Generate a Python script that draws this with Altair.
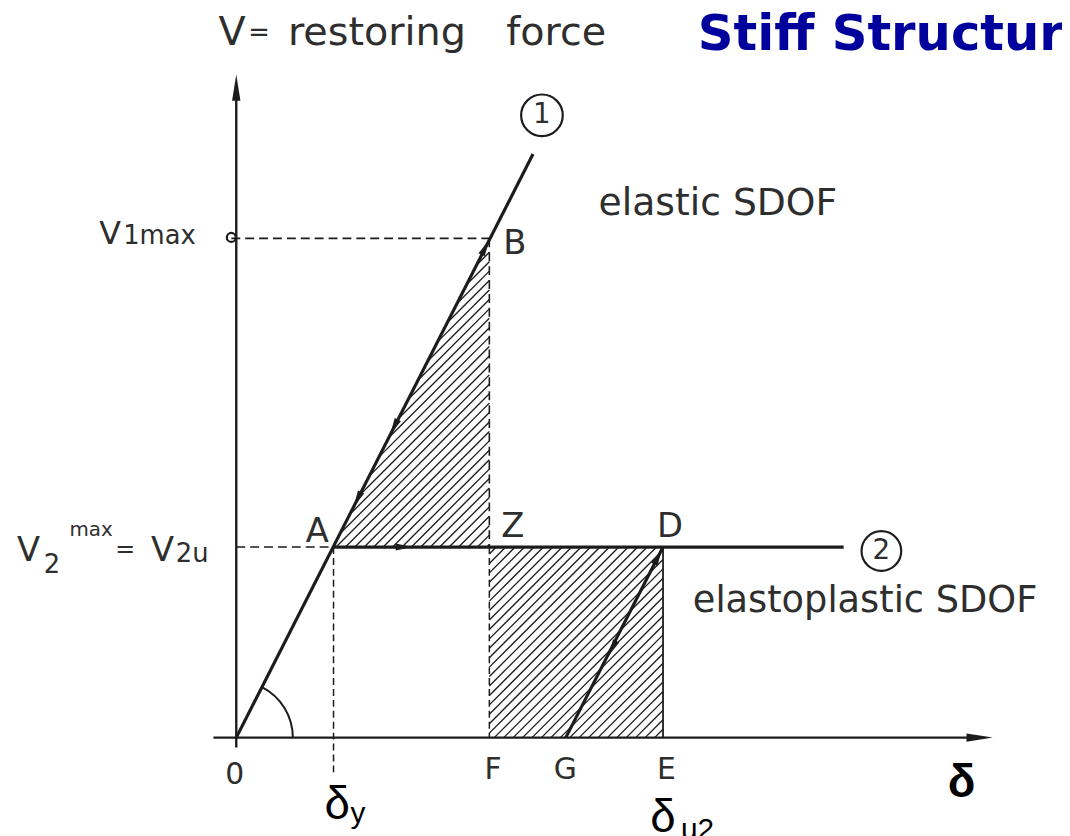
import altair as alt
import pandas as pd
import numpy as np

# ---- key values of the diagram (diagram units: delta to the right, V upwards) ----
delta_y = 98      # yield displacement (point A)
delta_F = 255     # point F / Z / B abscissa
delta_G = 332     # residual displacement G
delta_u2 = 430    # ultimate displacement E / D
V2u = 192         # plateau of elastoplastic SDOF
V1max = 503       # peak force of elastic SDOF

elastic_x = [0, 299]          # curve (1)
elastic_y = [0, 588]
plateau_x = [delta_y, 612]    # curve (2) plateau
plateau_y = [V2u, V2u]
unload_x = [delta_G, delta_u2]
unload_y = [0, V2u]

X_DOM = [-230, 824]
Y_DOM = [-88, 732]
xs = alt.Scale(domain=X_DOM, nice=False, zero=False)
ys = alt.Scale(domain=Y_DOM, nice=False, zero=False)
INK = "#1c1c1c"
TXT = "#2e2e2e"


def seg_layer(rows, **mark):
    df = pd.DataFrame(rows, columns=["x", "y", "x2", "y2"])
    return alt.Chart(df).mark_rule(**mark).encode(
        x=alt.X("x:Q", scale=xs, axis=None),
        y=alt.Y("y:Q", scale=ys, axis=None),
        x2="x2:Q",
        y2="y2:Q",
    )


# ---- hatching of the two energy areas (triangle A-B-Z, rectangle F-Z-D-E) ----
k = (V1max - V2u) / (delta_F - delta_y)
hatch = []
for c in np.arange(-450, 430, 9.5):
    lo, hi = max(delta_F, -c), min(delta_u2, V2u - c)
    if hi > lo:
        hatch.append((lo, lo + c, hi, hi + c))
    lo = max(V2u - c, (c - V2u + k * delta_y) / (k - 1))
    hi = delta_F
    if hi > lo:
        hatch.append((lo, lo + c, hi, hi + c))

hatch_layer = seg_layer(hatch, color=INK, strokeWidth=1.35)

axes_layer = seg_layer(
    [(-23, 0, 752, 0), (0, -10, 0, 658)], color=INK, strokeWidth=2.4
)

curves_layer = seg_layer(
    [
        (elastic_x[0], elastic_y[0], elastic_x[1], elastic_y[1]),
        (plateau_x[0], plateau_y[0], plateau_x[1], plateau_y[1]),
        (unload_x[0], unload_y[0], unload_x[1], unload_y[1]),
    ],
    color=INK,
    strokeWidth=3.2,
)

dashed_layer = seg_layer(
    [
        (-5, V1max, delta_F, V1max),
        (delta_F, V1max, delta_F, V2u),
        (0, V2u, delta_y, V2u),
    ],
    color=INK,
    strokeWidth=1.6,
    strokeDash=[9, 5],
)
dashed_small = seg_layer(
    [(delta_y, V2u, delta_y, -37), (delta_F, V2u, delta_F, 0)],
    color=INK,
    strokeWidth=1.5,
    strokeDash=[7, 4],
)
thin_layer = seg_layer([(delta_u2, V2u, delta_u2, 0)], color=INK, strokeWidth=1.8)

# ---- arrow heads ----
ARROW = "M0,-1L0.32,1L-0.32,1Z"
axis_arrows = pd.DataFrame({"x": [0, 749], "y": [655, 0], "ang": [0, 90]})
axis_arrow_layer = alt.Chart(axis_arrows).mark_point(
    shape=ARROW, filled=True, color=INK, size=700, opacity=1
).encode(
    x=alt.X("x:Q", scale=xs, axis=None),
    y=alt.Y("y:Q", scale=ys, axis=None),
    angle=alt.Angle("ang:Q", scale=None),
)

path_arrows = pd.DataFrame(
    {
        "x": [159, 122, 169, 379, 251, 425],
        "y": [313, 240, V2u, 90, 494, 182],
        "ang": [207, 207, 90, 207, 27, 27],
    }
)
path_arrow_layer = alt.Chart(path_arrows).mark_point(
    shape="M0,-1L0.42,1L-0.42,1Z", filled=True, color=INK, size=280, opacity=1
).encode(
    x=alt.X("x:Q", scale=xs, axis=None),
    y=alt.Y("y:Q", scale=ys, axis=None),
    angle=alt.Angle("ang:Q", scale=None),
)

# ---- angle arc at origin ----
arc_layer = alt.Chart(pd.DataFrame({"x": [0], "y": [0]})).mark_arc(
    radius=58, radius2=56, theta=0.4707, theta2=1.5708, color=INK
).encode(x=alt.X("x:Q", scale=xs, axis=None), y=alt.Y("y:Q", scale=ys, axis=None))

# ---- circles: V1max marker and the circled curve numbers ----
circ = pd.DataFrame({"x": [-5, 308, 650], "y": [504, 627, 188], "s": [80, 1760, 1600]})
circ_layer = alt.Chart(circ).mark_point(
    shape="circle", filled=False, color=INK, strokeWidth=2.2, opacity=1
).encode(
    x=alt.X("x:Q", scale=xs, axis=None),
    y=alt.Y("y:Q", scale=ys, axis=None),
    size=alt.Size("s:Q", scale=None),
)
num_layer = alt.Chart(
    pd.DataFrame({"x": [308, 650], "y": [627, 188], "t": ["1", "2"]})
).mark_text(font="DejaVu Sans", fontSize=28, color=TXT, align="center", baseline="middle").encode(
    x=alt.X("x:Q", scale=xs, axis=None),
    y=alt.Y("y:Q", scale=ys, axis=None),
    text="t:N",
)

# ---- text labels ----
lab_text = ["V", "=", "restoring", "force", "elastic SDOF", "elastoplastic SDOF",
            "B", "A", "Z", "D", "0", "F", "G", "E",
            "V", "1max", "V", "2", "max", "=", "V", "2u"]
lab_x = [-18, 12, 52, 272, 365, 460,
         269, 70, 267, 424, -11, 250, 320, 424,
         -138, -114, -221, -194, -168, -122, -86, -61]
lab_y = [698, 702, 698, 698, 527, 127,
         487, 197, 202, 202, -47, -42, -42, -42,
         497, 497, 178, 166, 203, 182, 178, 177]
lab_size = [40, 26, 40, 40, 38, 37,
            34, 34, 34, 34, 30, 30, 30, 30,
            32, 26, 34, 26, 20, 24, 34, 26]
labels = pd.DataFrame({"t": lab_text, "x": lab_x, "y": lab_y, "s": lab_size})
label_layer = alt.Chart(labels).mark_text(
    font="DejaVu Sans", color=TXT, align="left", baseline="alphabetic"
).encode(
    x=alt.X("x:Q", scale=xs, axis=None),
    y=alt.Y("y:Q", scale=ys, axis=None),
    text="t:N",
    size=alt.Size("s:Q", scale=None),
)

dl = pd.DataFrame(
    {"t": ["δ", "y", "δ", "u2"], "x": [89, 115, 417, 448], "y": [-82, -86, -95, -102], "s": [46, 30, 46, 30]}
)
delta_layer = alt.Chart(dl).mark_text(
    font="Liberation Sans", color="#000000", align="left", baseline="alphabetic"
).encode(
    x=alt.X("x:Q", scale=xs, axis=None),
    y=alt.Y("y:Q", scale=ys, axis=None),
    text="t:N",
    size=alt.Size("s:Q", scale=None),
)
bold_delta = alt.Chart(pd.DataFrame({"t": ["δ"], "x": [717], "y": [-60]})).mark_text(
    font="Liberation Sans", fontWeight="bold", fontSize=46, color="#000000",
    align="left", baseline="alphabetic",
).encode(x=alt.X("x:Q", scale=xs, axis=None), y=alt.Y("y:Q", scale=ys, axis=None), text="t:N")

title_layer = alt.Chart(pd.DataFrame({"t": ["Stiff Structure"], "x": [465], "y": [693]})).mark_text(
    font="DejaVu Sans", fontWeight="bold", fontSize=50, color="#00009c",
    align="left", baseline="alphabetic",
).encode(x=alt.X("x:Q", scale=xs, axis=None), y=alt.Y("y:Q", scale=ys, axis=None), text="t:N")

chart = alt.layer(
    hatch_layer, axes_layer, dashed_layer, dashed_small, thin_layer, curves_layer,
    axis_arrow_layer, path_arrow_layer, arc_layer, circ_layer, num_layer,
    label_layer, delta_layer, bold_delta, title_layer,
).properties(
    width=1054, height=820,
    autosize=alt.AutoSizeParams(type="none"),
    padding={"left": 0, "top": 0, "right": 8, "bottom": 8},
    background="white",
).configure_view(strokeWidth=0)

chart.save("out.html", embed_options={"renderer": "svg", "actions": False})
